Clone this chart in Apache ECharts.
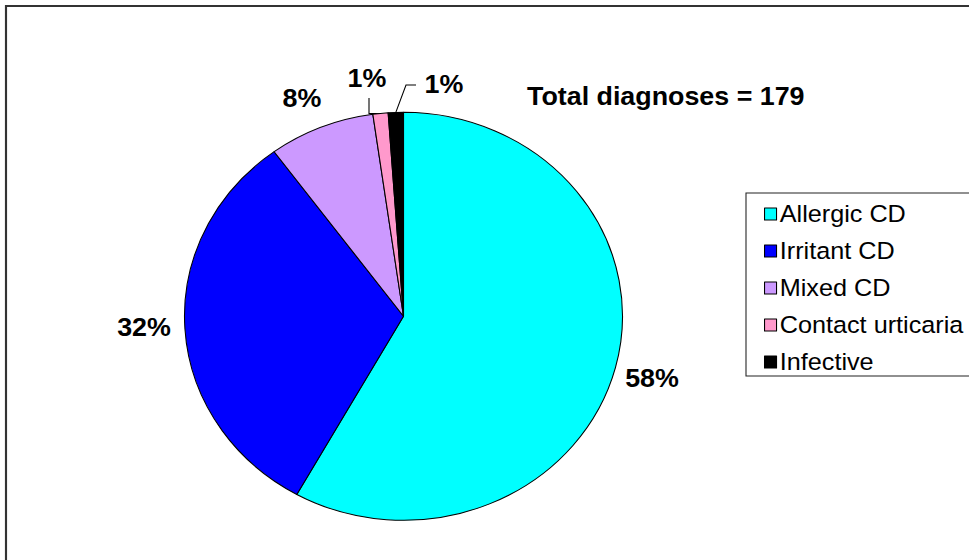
<!DOCTYPE html>
<html>
<head>
<meta charset="utf-8">
<script src="https://cdn.jsdelivr.net/npm/echarts@6/dist/echarts.min.js"></script>
<style>
html,body{margin:0;padding:0;background:#fff;overflow:hidden;width:969px;height:560px;}
#chart{width:903px;height:560px;transform:scaleX(1.0735);transform-origin:0 0;}
</style>
</head>
<body>
<div id="chart"></div>
<script>
// Data
var categories = ['Allergic CD', 'Irritant CD', 'Mixed CD', 'Contact urticaria', 'Infective'];
var counts = [104, 57, 14, 2, 2];
var colors = ['#00FFFF', '#0000FF', '#CC99FF', '#FF99CC', '#000000'];
var totalLabel = 'Total diagnoses = 179';

var total = counts.reduce(function (a, b) { return a + b; }, 0);

// the original picture is horizontally stretched; draw in unstretched space
var S = 1.0735;
function X(px) { return px / S; }

// label placement (text centres, in picture pixels) per slice
var labelPos = [[652, 378], [144, 327], [302, 98], [367, 78], [444, 84]];

var chart = echarts.init(document.getElementById('chart'), null, {renderer: 'svg'});

var pieData = categories.map(function (name, i) {
  return {
    name: name,
    value: counts[i],
    itemStyle: {color: colors[i]},
    labelLine: {show: i >= 3}
  };
});

var option = {
  animation: false,
  backgroundColor: '#fff',
  graphic: [
    {type: 'rect', shape: {x: X(6), y: 6, width: 1100, height: 700},
     style: {fill: 'none', stroke: '#333', lineWidth: 2}, z: 0},
    {type: 'text', left: X(527), top: 84,
     style: {text: totalLabel, font: 'bold 25px "Liberation Sans", Arial, sans-serif', fill: '#000'}}
  ],
  legend: {
    orient: 'vertical',
    left: X(746),
    top: 193,
    padding: [9, 200, 2, X(18)],
    borderColor: '#222',
    borderWidth: 1,
    backgroundColor: '#fff',
    itemWidth: X(12),
    itemHeight: 12,
    itemGap: 13,
    icon: 'rect',
    itemStyle: {borderColor: '#000', borderWidth: 1},
    textStyle: {fontFamily: '"Liberation Sans", Arial, sans-serif', fontSize: 23.5, color: '#000', lineHeight: 22, padding: [0, 0, 0, -2]},
    data: categories
  },
  series: [{
    type: 'pie',
    center: [X(403.5), 316.3],
    radius: 204,
    startAngle: 90,
    clockwise: true,
    avoidLabelOverlap: false,
    itemStyle: {borderColor: '#000', borderWidth: 1},
    emphasis: {disabled: true},
    label: {
      show: true,
      position: 'outside',
      fontFamily: '"Liberation Sans", Arial, sans-serif',
      fontSize: 25,
      fontWeight: 'bold',
      color: '#000',
      formatter: function (p) { return Math.round(p.value / total * 100) + '%'; }
    },
    labelLine: {show: true, length: 10, length2: 10, lineStyle: {color: '#000', width: 1}},
    labelLayout: function (params) {
      var i = params.dataIndex;
      var pos = labelPos[i];
      var res = {x: X(pos[0]), y: pos[1], align: 'center', verticalAlign: 'middle'};
      if (i >= 3 && params.labelLinePoints) {
        var p0 = params.labelLinePoints[0];
        if (i === 3) {
          res.labelLinePoints = [p0, [X(369), p0[1]], [X(369), 98]];
        } else {
          res.labelLinePoints = [p0, [X(406), 85], [X(416), 85]];
        }
      }
      return res;
    },
    data: pieData
  }]
};
chart.setOption(option);
</script>
</body>
</html>
